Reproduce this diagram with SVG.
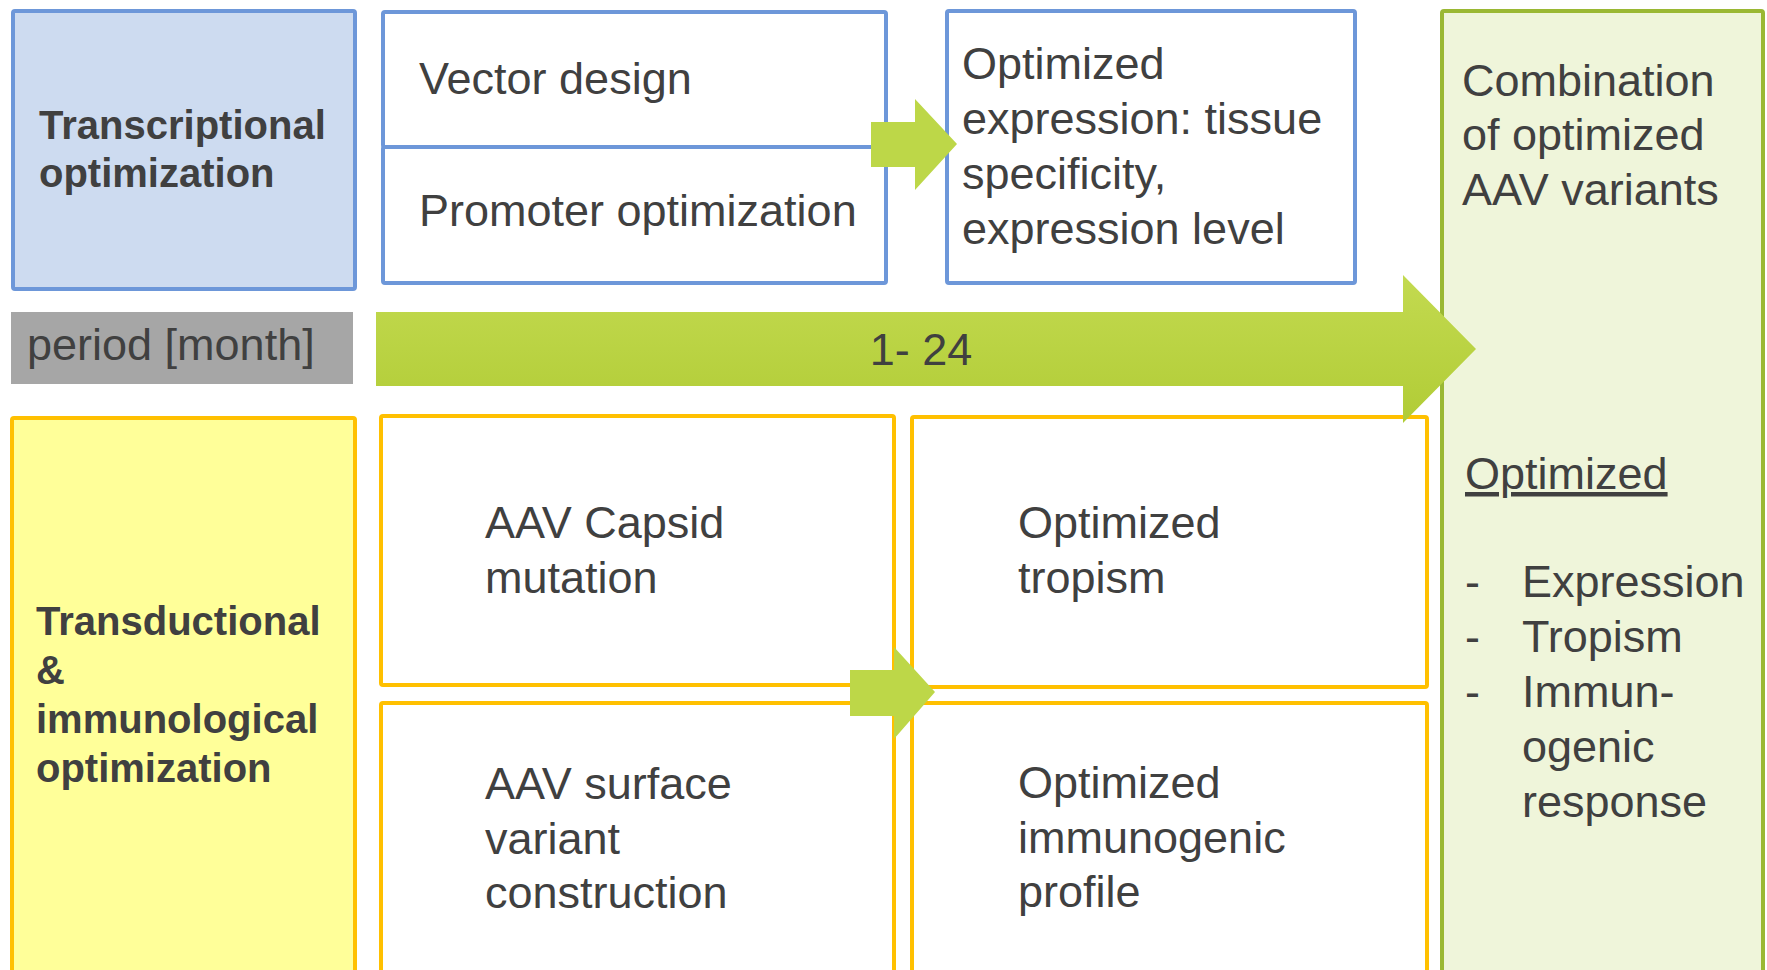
<svg xmlns="http://www.w3.org/2000/svg" width="1767" height="970" viewBox="0 0 1767 970">
  <defs>
    <style>
      .t { font-family: "Liberation Sans", Arial, sans-serif; font-size: 45px; fill: #404040; }
      .b { font-family: "Liberation Sans", Arial, sans-serif; font-size: 40px; font-weight: bold; fill: #404040; }
      .blue { fill: #ffffff; stroke: #6d97d9; stroke-width: 4; }
      .yel { fill: #ffffff; stroke: #ffc000; stroke-width: 4; }
      .arrow { fill: #bdd748; }
    </style>
    <linearGradient id="gArrow" x1="0" y1="0" x2="0" y2="1">
      <stop offset="0" stop-color="#c3da50"/>
      <stop offset="1" stop-color="#b1cc36"/>
    </linearGradient>
  </defs>
  <rect width="1767" height="970" fill="#ffffff"/>

  <!-- row header: transcriptional -->
  <g id="transcriptional">
    <rect x="13" y="11" width="342" height="278" rx="2" fill="#cddbf0" stroke="#6d97d9" stroke-width="4"/>
    <text class="b" x="39" y="139">Transcriptional</text>
    <text class="b" x="39" y="187">optimization</text>
  </g>

  <g id="vector-design">
    <rect class="blue" x="383" y="12" width="503" height="135" rx="2"/>
    <text class="t" x="419" y="94">Vector design</text>
  </g>

  <g id="promoter-optimization">
    <rect class="blue" x="383" y="147" width="503" height="136" rx="2"/>
    <text class="t" x="419" y="226">Promoter optimization</text>
  </g>

  <g id="optimized-expression">
    <rect class="blue" x="947" y="11" width="408" height="272" rx="2"/>
    <text class="t" x="962" y="79">Optimized</text>
    <text class="t" x="962" y="134">expression: tissue</text>
    <text class="t" x="962" y="189">specificity,</text>
    <text class="t" x="962" y="244">expression level</text>
  </g>

  <!-- timeline label -->
  <g id="period">
    <rect x="11" y="312" width="342" height="72" fill="#a6a6a6"/>
    <text class="t" x="27" y="360">period [month]</text>
  </g>

  <!-- row header: transductional -->
  <g id="transductional">
    <rect x="12" y="418" width="343" height="570" rx="2" fill="#ffff99" stroke="#ffc000" stroke-width="4"/>
    <text class="b" x="36" y="635">Transductional</text>
    <text class="b" x="36" y="684">&amp;</text>
    <text class="b" x="36" y="733">immunological</text>
    <text class="b" x="36" y="782">optimization</text>
  </g>

  <g id="capsid-mutation">
    <rect class="yel" x="381" y="416" width="513" height="269" rx="2"/>
    <text class="t" x="485" y="538">AAV Capsid</text>
    <text class="t" x="485" y="593">mutation</text>
  </g>

  <g id="surface-variant">
    <rect class="yel" x="381" y="703" width="513" height="285" rx="2"/>
    <text class="t" x="485" y="799">AAV surface</text>
    <text class="t" x="485" y="854">variant</text>
    <text class="t" x="485" y="908">construction</text>
  </g>

  <g id="optimized-tropism">
    <rect class="yel" x="912" y="417" width="515" height="270" rx="2"/>
    <text class="t" x="1018" y="538">Optimized</text>
    <text class="t" x="1018" y="593">tropism</text>
  </g>

  <g id="optimized-immunogenic">
    <rect class="yel" x="912" y="703" width="515" height="285" rx="2"/>
    <text class="t" x="1018" y="798">Optimized</text>
    <text class="t" x="1018" y="853">immunogenic</text>
    <text class="t" x="1018" y="907">profile</text>
  </g>

  <!-- outcome column -->
  <g id="combination">
    <rect x="1442" y="11" width="321" height="980" rx="2" fill="#eff5da" stroke="#9ab833" stroke-width="4"/>
    <text class="t" x="1462" y="96">Combination</text>
    <text class="t" x="1462" y="150">of optimized</text>
    <text class="t" x="1462" y="205">AAV variants</text>
    <text class="t" x="1465" y="489" text-decoration="underline">Optimized</text>
    <text class="t" x="1465" y="597">-</text>
    <text class="t" x="1522" y="597">Expression</text>
    <text class="t" x="1465" y="652">-</text>
    <text class="t" x="1522" y="652">Tropism</text>
    <text class="t" x="1465" y="707">-</text>
    <text class="t" x="1522" y="707">Immun-</text>
    <text class="t" x="1522" y="762">ogenic</text>
    <text class="t" x="1522" y="817">response</text>
  </g>

  <!-- arrows -->
  <g id="connectors">
    <polygon class="arrow" points="871,122 915,122 915,99 957,144 915,190 915,167 871,167"/>
    <polygon class="arrow" points="850,670 894,670 894,647 935,692 894,739 894,716 850,716"/>
    <polygon fill="url(#gArrow)" points="376,312 1403,312 1403,275 1476,349 1403,423 1403,386 376,386"/>
    <text class="t" x="921" y="365" text-anchor="middle">1- 24</text>
  </g>
</svg>
